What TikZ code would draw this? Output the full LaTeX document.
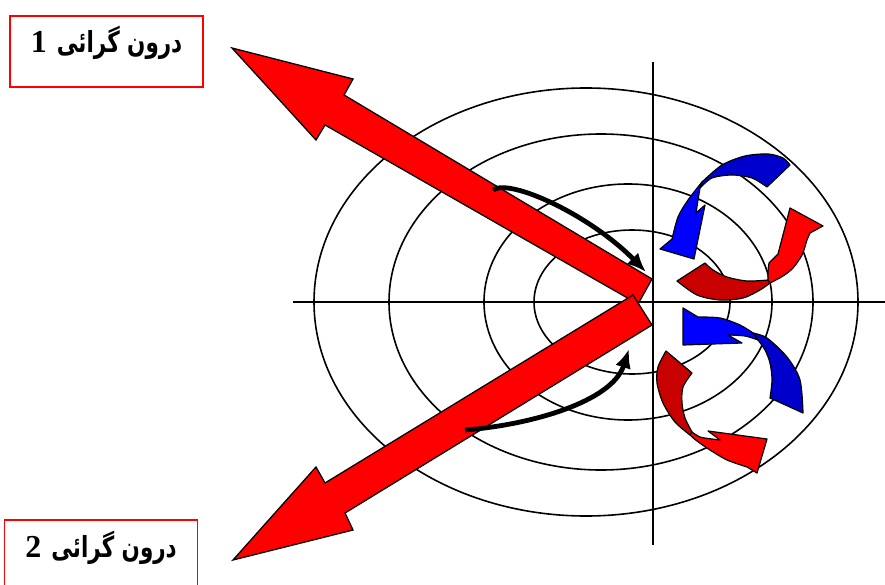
\documentclass[tikz,border=0pt]{standalone}
\usepackage{fontspec}
\usetikzlibrary{arrows.meta}
\TeXXeTstate=1
\newfontfamily\farsifont[Script=Arabic, FakeStretch=0.74]{DejaVu Sans}
\newfontfamily\digitfont{Liberation Serif}

\definecolor{frontred}{HTML}{FF0000}
\definecolor{backred}{HTML}{C80000}
\definecolor{frontblue}{HTML}{0000FF}
\definecolor{backblue}{HTML}{0000CC}

% Persian label: narrowed bold text with a Times-like numeral
\newcommand{\introtext}[1]{{\farsifont\bfseries\fontsize{29}{31}\selectfont\beginR درون گرائی\hspace{10pt}{\digitfont\bfseries\fontsize{32}{34}\selectfont #1}\endR}}

\tikzset{
  ring/.style={line width=1.6pt},
  axis/.style={line width=1.6pt},
  fatarrow/.style={fill=frontred, draw=black, line width=1.3pt, line join=miter},
  swirl/.style={draw=black, line width=1.2pt, line join=round},
  turn/.style={line width=4.8pt, -{Latex[length=19pt,width=16pt]}},
  labelbox/.style={draw=red, line width=1.8pt, minimum width=193pt, minimum height=71pt,
    text height=20pt, text depth=17pt, inner sep=0pt}
}

\begin{document}
\begin{tikzpicture}[x=1pt, y=-1pt]
  \useasboundingbox (0,0) rectangle (885,585);

  % rings round the centre
  \draw[ring] (586,302) ellipse [x radius=272, y radius=214];
  \draw[ring] (601,302) ellipse [x radius=212, y radius=168];
  \draw[ring] (628,302) ellipse [x radius=144, y radius=118];
  \draw[ring] (632,302) ellipse [x radius=98, y radius=72];

  % axes
  \coordinate (west) at (293,302);
  \coordinate (east) at (885,302);
  \coordinate (north) at (653,62);
  \coordinate (south) at (653,545);
  \draw[axis] (west) -- (east);
  \draw[axis] (north) -- (south);

  % upper swirl, blue part
  \filldraw[swirl, fill=backblue] (790,165) -- (767,187)
    -- plot[smooth] coordinates {(767,187) (752,178) (732,175) (712,178) (700,188)}
    -- (702,182)
    -- plot[smooth] coordinates {(702,182) (722,165) (745,156) (768,154) (783,158) (790,165)} -- cycle;
  \filldraw[swirl, fill=frontblue] (702,182)
    -- plot[smooth] coordinates {(702,182) (688,200) (678,217) (672,239)}
    -- (660,249) -- (694,259) -- (705,205) -- (696,213)
    -- plot[smooth] coordinates {(696,213) (698,200) (700,188)} -- cycle;

  % upper swirl, red part
  \filldraw[swirl, fill=backred] (677,281) -- (705,263)
    -- plot[smooth] coordinates {(705,263) (713,270) (727,277) (747,281) (768,280)}
    -- (770,283)
    -- plot[smooth] coordinates {(770,283) (760,290) (743,298) (720,300) (697,295) (677,281)} -- cycle;
  \filldraw[swirl, fill=frontred] (768,280)
    -- plot[smooth] coordinates {(768,280) (768,271) (769,263)}
    -- (778,254) -- (790,208) -- (823,226) -- (810,233)
    -- plot[smooth] coordinates {(810,233) (807,240) (802,255) (793,268) (783,276) (770,283)} -- cycle;

  % lower swirl, blue part
  \filldraw[swirl, fill=backblue] (753,333)
    -- plot[smooth] coordinates {(753,333) (767,338) (787,357) (800,380) (803,413)}
    -- (770,398)
    -- plot[smooth] coordinates {(770,398) (772,380) (770,363) (765,350) (758,340)} -- cycle;
  \filldraw[swirl, fill=frontblue] (683,308) -- (698,317)
    -- plot[smooth] coordinates {(698,317) (720,318) (740,325) (753,333)}
    -- (758,340)
    -- plot[smooth] coordinates {(758,340) (745,336) (728,335)}
    -- (742,343) -- (683,345) -- cycle;

  % lower swirl, red part
  \filldraw[swirl, fill=backred] (666,351) -- (692,373)
    -- plot[smooth] coordinates {(692,373) (683,387) (682,403) (685,418) (692,432)}
    -- (690,435)
    -- plot[smooth] coordinates {(690,435) (675,422) (663,403) (657,383) (658,367) (666,351)} -- cycle;
  \filldraw[swirl, fill=frontred] (692,432)
    -- plot[smooth] coordinates {(692,432) (700,437) (712,439) (720,440)}
    -- (708,431) -- (767,439) -- (757,473) -- (747,467)
    -- plot[smooth] coordinates {(747,467) (727,460) (710,450) (697,441) (690,435)} -- cycle;

  % the two wide arrows
  \filldraw[fatarrow] (232,48) -- (353,79) -- (344,95) -- (652,279) -- (638,304)
    -- (325,125) -- (316,140) -- cycle;
  \filldraw[fatarrow] (233,560) -- (316,467) -- (325,483) -- (633,295) -- (652,325)
    -- (345,513) -- (353,530) -- cycle;

  % turning of the wide arrows
  \coordinate (upfrom) at (493,190);
  \coordinate (upto) at (646,272);
  \coordinate (lowfrom) at (465,430);
  \coordinate (lowto) at (629,349);
  \draw[turn] (upfrom) .. controls (510,178) and (590,215) .. (upto);
  \draw[turn] (lowfrom) .. controls (530,425) and (612,402) .. (lowto);

  % labels
  \node[labelbox] (intro1) at (106.5,51.5) {\introtext{1}};
  \node[labelbox] (intro2) at (101,555.5) {\introtext{2}};
\end{tikzpicture}
\end{document}
